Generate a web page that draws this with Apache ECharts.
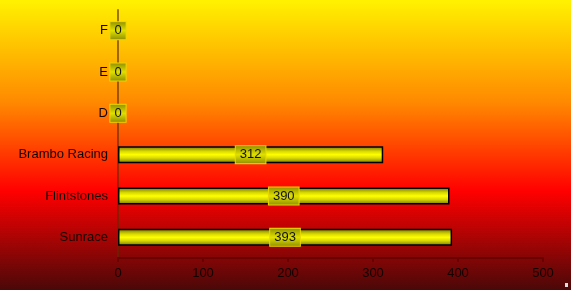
<!DOCTYPE html>
<html>
<head>
<meta charset="utf-8">
<script src="https://cdn.jsdelivr.net/npm/echarts@6/dist/echarts.min.js"></script>
<style>html,body{margin:0;padding:0;}#c{width:571px;height:290px;}</style>
</head>
<body>
<div id="c"></div>
<script>
const categories = ['Sunrace', 'Flintstones', 'Brambo Racing', 'D', 'E', 'F'];
const values = [393, 390, 312, 0, 0, 0];
const xTicks = [0, 100, 200, 300, 400, 500];

const chart = echarts.init(document.getElementById('c'), null, {renderer: 'canvas'});
const G = echarts.graphic;
chart.setOption({
  animation: false,
  backgroundColor: new G.LinearGradient(0, 0, 0, 1, [
    {offset: 0, color: '#fff200'},
    {offset: 0.35, color: '#ff8a00'},
    {offset: 0.66, color: '#ff0000'},
    {offset: 1, color: '#4a0808'}
  ]),
  grid: {left: 118, right: 28, top: 10, bottom: 32},
  xAxis: {
    type: 'value', min: xTicks[0], max: xTicks[xTicks.length - 1], interval: 100,
    splitLine: {show: false},
    axisLine: {show: true, lineStyle: {color: '#6a0000', width: 2}},
    axisTick: {show: true, length: 4, lineStyle: {color: '#6a0000', width: 2}},
    axisLabel: {color: '#150000', fontSize: 13, fontFamily: 'Liberation Sans, Arial', margin: 9}
  },
  yAxis: {
    type: 'category', data: categories,
    axisLine: {show: true, lineStyle: {color: 'rgba(90,45,0,0.6)', width: 2}},
    axisTick: {show: false},
    axisLabel: {color: '#150500', fontSize: 13, fontFamily: 'Liberation Sans, Arial', margin: 10}
  },
  series: [{
    type: 'bar', data: values, barWidth: 17,
    itemStyle: {
      color: new G.LinearGradient(0, 0, 0, 1, [
        {offset: 0, color: '#707000'},
        {offset: 0.3, color: '#d8d800'},
        {offset: 0.5, color: '#ffff00'},
        {offset: 0.7, color: '#d8d800'},
        {offset: 1, color: '#707000'}
      ]),
      borderColor: '#000', borderWidth: 1.5
    },
    label: {
      show: true, position: 'inside', color: '#111',
      fontSize: 13, fontFamily: 'Liberation Sans, Arial',
      backgroundColor: new G.LinearGradient(0, 0, 0, 1, [
        {offset: 0, color: '#8c8c00'},
        {offset: 0.5, color: '#e0e000'},
        {offset: 1, color: '#8c8c00'}
      ]),
      borderColor: '#e8d800', borderWidth: 1,
      padding: [2, 4, 2, 4]
    }
  }],
  graphic: [{type: 'rect', shape: {x: 565, y: 283, width: 3, height: 4}, style: {fill: '#ddd'}}]
});
</script>
</body>
</html>
